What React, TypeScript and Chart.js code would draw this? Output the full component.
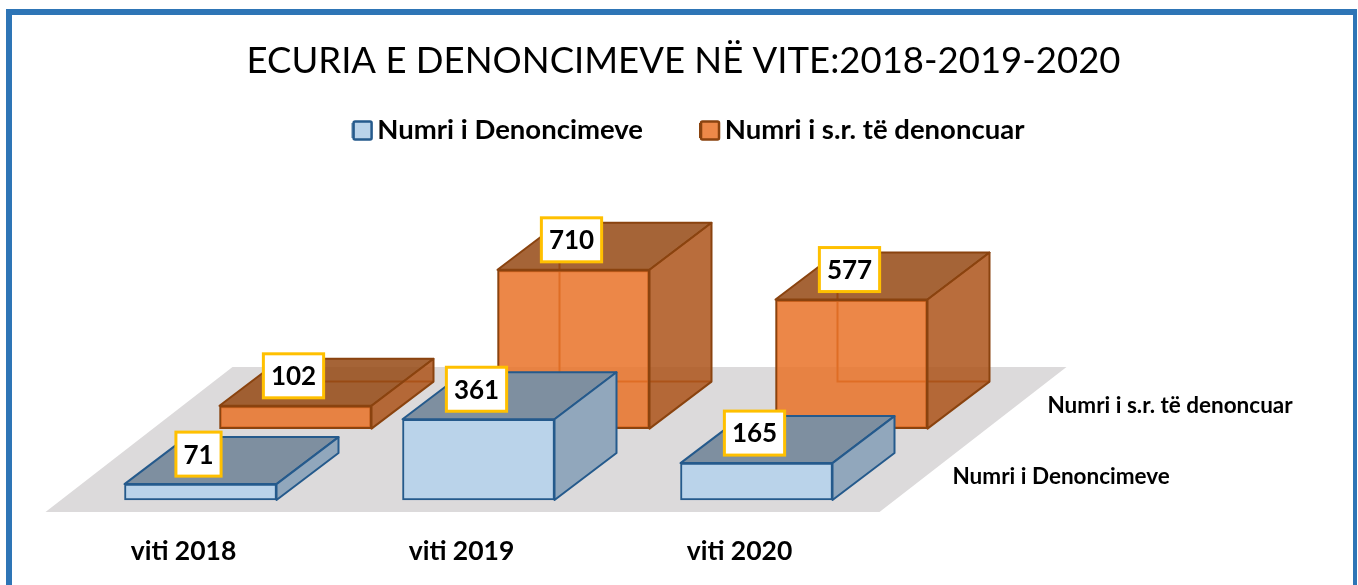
import React, { useEffect, useRef } from "react";
import { Chart, registerables } from "chart.js";

Chart.register(...registerables);

const TITLE = "ECURIA E DENONCIMEVE NË VITE:2018-2019-2020";
const categories = ["viti 2018", "viti 2019", "viti 2020"];
const denoncime = [71, 361, 165];
const persona = [102, 710, 577];
const seriesNames = ["Numri i Denoncimeve", "Numri i s.r. të denoncuar"];

const FONT = "Lato";
const PX_PER_UNIT = 0.2225;
const UNIT_X = 278;
const AREA_LEFT = 14;
const AREA_RIGHT = 1353;
const BASE_Y = 500;
const ORANGE_SHIFT_X = 95;
const ORANGE_SHIFT_Y = 71;
const DEPTH_X = 62;
const DEPTH_Y = 47;
const AREA_TOP_GUESS = 181;
const LEGEND_DX = 5;
const LEGEND_DY = -25;
const LEGEND_PADDING = 57;
const LEGEND_FONT = 27.5;

const faces: Record<string, any> = {
  x: { top: "#7E8FA0", side: "#91A7BC", edge: "#255A8C", hidden: null },
  x2: { top: "rgba(149,73,20,0.85)", side: "rgba(173,84,26,0.85)", edge: "#8A430F", hidden: "#A8551A" },
};

function poly(ctx: CanvasRenderingContext2D, pts: number[][], fill: string, edge: string) {
  ctx.beginPath();
  pts.forEach((p, i) => (i ? ctx.lineTo(p[0], p[1]) : ctx.moveTo(p[0], p[1])));
  ctx.closePath();
  ctx.fillStyle = fill;
  ctx.fill();
  ctx.lineWidth = 2;
  ctx.lineJoin = "round";
  ctx.strokeStyle = edge;
  ctx.stroke();
}

const boxes3d = {
  id: "boxes3d",
  afterLayout(chart: any) {
    const lg = chart.legend;
    lg.left += LEGEND_DX;
    lg.right += LEGEND_DX;
    lg.top += LEGEND_DY;
    lg.bottom += LEGEND_DY;
    lg.legendHitBoxes.forEach((hb: any) => {
      hb.left += LEGEND_DX;
    });
  },
  beforeDatasetsDraw(chart: any) {
    const { ctx, scales } = chart;
    const yb = scales.y.getPixelForValue(0);
    const l = scales.x.getPixelForValue(-0.5) - 16;
    const r = scales.x.getPixelForValue(2.5) - 16;
    ctx.save();
    ctx.beginPath();
    ctx.moveTo(l, yb + 12);
    ctx.lineTo(r, yb + 12);
    ctx.lineTo(r + 187, yb - 133);
    ctx.lineTo(l + 187, yb - 133);
    ctx.closePath();
    ctx.fillStyle = "#DCDADB";
    ctx.fill();
    ctx.restore();
  },
  beforeDatasetDraw(chart: any, args: any) {
    const meta = chart.getDatasetMeta(args.index);
    const f = faces[meta.xAxisID];
    if (!f.hidden) return;
    const { ctx } = chart;
    ctx.save();
    ctx.lineWidth = 2;
    ctx.strokeStyle = f.hidden;
    meta.data.forEach((b: any) => {
      const { x, y, base, width } = b.getProps(["x", "y", "base", "width"], true);
      const xl = x - width / 2 + DEPTH_X;
      const xr = x + width / 2 + DEPTH_X;
      ctx.beginPath();
      ctx.moveTo(xl, y - DEPTH_Y);
      ctx.lineTo(xl, base - DEPTH_Y);
      ctx.lineTo(xr, base - DEPTH_Y);
      ctx.stroke();
    });
    ctx.restore();
  },
  afterDatasetDraw(chart: any, args: any) {
    const meta = chart.getDatasetMeta(args.index);
    const f = faces[meta.xAxisID];
    const { ctx } = chart;
    ctx.save();
    meta.data.forEach((b: any) => {
      const { x, y, base, width } = b.getProps(["x", "y", "base", "width"], true);
      const xl = x - width / 2;
      const xr = x + width / 2;
      poly(ctx, [[xl, y], [xr, y], [xr + DEPTH_X, y - DEPTH_Y], [xl + DEPTH_X, y - DEPTH_Y]], f.top, f.edge);
      poly(ctx, [[xr, y], [xr + DEPTH_X, y - DEPTH_Y], [xr + DEPTH_X, base - DEPTH_Y], [xr, base]], f.side, f.edge);
    });
    ctx.restore();
  },
  afterDatasetsDraw(chart: any) {
    const { ctx, scales } = chart;
    ctx.save();
    ctx.textBaseline = "middle";
    chart.data.datasets.forEach((ds: any, i: number) => {
      const meta = chart.getDatasetMeta(i);
      ctx.font = `bold 26px ${FONT}`;
      meta.data.forEach((b: any, j: number) => {
        const { x, y } = b.getProps(["x", "y"], true);
        const text = String(ds.data[j].y);
        const w = ctx.measureText(text).width + 15;
        const h = 44;
        const cy = y - 30;
        const cx = x - 2;
        ctx.fillStyle = "#FFFFFF";
        ctx.fillRect(cx - w / 2, cy - h / 2, w, h);
        ctx.strokeStyle = "#FFC000";
        ctx.lineWidth = 3;
        ctx.strokeRect(cx - w / 2, cy - h / 2, w, h);
        ctx.fillStyle = "#000000";
        ctx.textAlign = "center";
        ctx.fillText(text, cx, cy + 1);
      });
      const xs = scales[meta.xAxisID];
      const ys = scales[meta.yAxisID];
      ctx.font = `bold 22.5px ${FONT}`;
      ctx.textAlign = "left";
      ctx.fillStyle = "#000000";
      ctx.fillText(ds.label, xs.getPixelForValue(2.5) + 57, ys.getPixelForValue(0) - 23);
    });
    ctx.restore();
  },
  afterDraw(chart: any) {
    const { ctx } = chart;
    const lg = chart.legend;
    ctx.save();
    chart.data.datasets.forEach((ds: any, i: number) => {
      const hb = lg.legendHitBoxes[i];
      const cy = lg.top + LEGEND_PADDING + LEGEND_FONT / 2;
      ctx.fillStyle = "#FFFFFF";
      ctx.fillRect(hb.left, cy - 10, 20, 20);
      ctx.fillStyle = ds.legendFill;
      ctx.strokeStyle = ds.borderColor;
      ctx.lineWidth = 2.5;
      ctx.beginPath();
      ctx.roundRect(hb.left + 1, cy - 9, 18, 18, 1.5);
      ctx.fill();
      ctx.stroke();
    });
    ctx.restore();
  },
};

export default function App() {
  const ref = useRef<HTMLCanvasElement>(null);
  useEffect(() => {
    const yMax = (BASE_Y - AREA_TOP_GUESS) / PX_PER_UNIT;
    const yLow = -ORANGE_SHIFT_Y / PX_PER_UNIT;
    const xMin = (AREA_LEFT - 200.5) / UNIT_X;
    const xMax = (AREA_RIGHT - 200.5) / UNIT_X;
    const xShift = ORANGE_SHIFT_X / UNIT_X;
    const hidden = { display: false, grid: { display: false }, border: { display: false } };
    const chart = new Chart(ref.current!, {
      type: "bar",
      plugins: [boxes3d],
      data: {
        datasets: [
          {
            label: seriesNames[0],
            data: denoncime.map((v, i) => ({ x: i, y: v })),
            xAxisID: "x",
            yAxisID: "y",
            backgroundColor: "#BAD3EA",
            legendFill: "#BAD3EA",
            borderColor: "#255A8C",
            borderWidth: 2,
            borderSkipped: false,
            barThickness: 152,
            grouped: false,
            clip: false,
          } as any,
          {
            label: seriesNames[1],
            data: persona.map((v, i) => ({ x: i, y: v })),
            xAxisID: "x2",
            yAxisID: "y2",
            backgroundColor: "rgba(233,114,40,0.85)",
            legendFill: "#ED8949",
            borderColor: "#8A430F",
            borderWidth: 2,
            borderSkipped: false,
            barThickness: 152,
            grouped: false,
            clip: false,
          } as any,
        ],
      },
      options: {
        animation: false,
        responsive: false,
        layout: { padding: { left: AREA_LEFT, right: 1358 - AREA_RIGHT, top: 0, bottom: 0 } },
        plugins: {
          tooltip: { enabled: false },
          title: {
            display: true,
            text: TITLE,
            color: "#000000",
            font: { family: FONT, size: 36.5, weight: "normal" },
            padding: { top: 39, bottom: 2 },
          },
          legend: {
            display: true,
            position: "top",
            labels: {
              boxWidth: 11,
              boxHeight: 13,
              padding: LEGEND_PADDING,
              color: "#000000",
              font: { family: FONT, size: LEGEND_FONT, weight: "bold" },
            },
          },
        },
        scales: {
          x: {
            type: "linear",
            position: "bottom",
            offset: false,
            min: xMin,
            max: xMax,
            grid: { display: false },
            border: { display: false },
            afterBuildTicks: (s: any) => {
              s.ticks = categories.map((_, i) => ({ value: i }));
            },
            afterFit: (s: any) => {
              s.height = 585 - BASE_Y;
            },
            ticks: {
              color: "#000000",
              font: { family: FONT, size: 26.5, weight: "bold" },
              padding: 28,
              labelOffset: -17,
              maxRotation: 0,
              autoSkip: false,
              callback: (v: any) => categories[v] ?? "",
            },
          },
          x2: { ...hidden, type: "linear", position: "bottom", offset: false, min: xMin - xShift, max: xMax - xShift },
          y: { ...hidden, type: "linear", min: 0, max: yMax },
          y2: { ...hidden, type: "linear", min: yLow, max: yMax + yLow },
        },
      } as any,
    });
    return () => chart.destroy();
  }, []);
  return (
    <div style={{ position: "fixed", left: 0, top: 0, width: 1358, height: 585, overflow: "hidden", background: "#fff" }}>
      <div
        style={{
          position: "absolute",
          left: 6,
          top: 9,
          width: 1351,
          height: 620,
          boxSizing: "border-box",
          border: "6px solid #2E75B6",
          borderRightWidth: 4,
        }}
      />
      <canvas ref={ref} width={1358} height={585} style={{ position: "absolute", left: 0, top: 0, display: "block" }} />
    </div>
  );
}
